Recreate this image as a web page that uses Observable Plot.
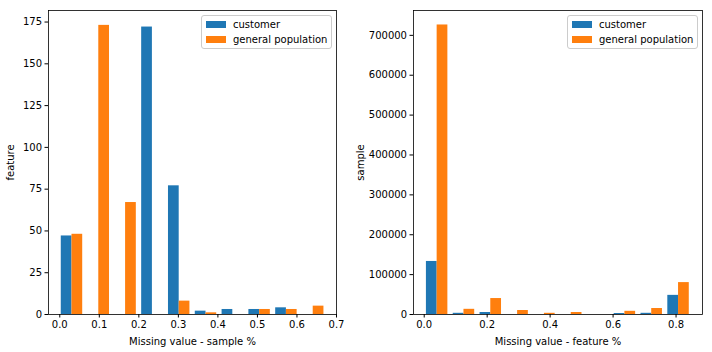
<!DOCTYPE html>
<html><head><meta charset="utf-8">
<script src="https://cdn.jsdelivr.net/npm/d3@7"></script>
<script src="https://cdn.jsdelivr.net/npm/@observablehq/plot@0.6"></script>
<style>
body{margin:0;background:#fff;font-family:"DejaVu Sans",sans-serif;}
#wrap{position:relative;width:712px;height:352px;overflow:hidden;}
.panel{position:absolute;top:0;}
.legend{position:absolute;box-sizing:border-box;border:1px solid #cccccc;border-radius:3px;background:rgba(255,255,255,0.8);font:10px "DejaVu Sans",sans-serif;color:#000;}
.legend .sw{position:absolute;width:20px;height:7px;}
.legend .lb{position:absolute;line-height:12px;white-space:nowrap;}
</style>
</head><body>
<div id="wrap"></div>
<script>
// ---- data ----
const seriesNames = ["customer", "general population"];
const seriesColors = ["#1f77b4", "#ff7f0e"];

// Left: missing value per sample, counts of features (10 bins)
const leftBinStart = -0.003;
const leftBinWidth = 0.0678;
const leftCustomer = [47, 0, 0, 172, 77, 2, 3, 3, 4, 0];
const leftGeneral  = [48, 173, 67, 0, 8, 1, 0, 3, 3, 5];
const leftXTicks = [0, 0.1, 0.2, 0.3, 0.4, 0.5, 0.6, 0.7];
const leftYTicks = [0, 25, 50, 75, 100, 125, 150, 175];

// Right: missing value per feature, counts of samples (10 bins)
const rightBinStart = -0.0015;
const rightBinWidth = 0.0852;
const rightCustomer = [133000, 3000, 5000, 0, 0, 0, 0, 2500, 3000, 48000];
const rightGeneral  = [726000, 13000, 40000, 10000, 3000, 5000, 0, 8000, 15000, 80000];
const rightXTicks = [0, 0.2, 0.4, 0.6, 0.8];
const rightYTicks = [0, 100000, 200000, 300000, 400000, 500000, 600000, 700000];

function rows(start, width, a, b) {
  const out = [];
  [a, b].forEach((vals, s) => {
    vals.forEach((v, i) => {
      const x1 = start + i * width + 0.1 * width + s * 0.4 * width;
      out.push({series: seriesNames[s], x1, x2: x1 + 0.4 * width, y: v});
    });
  });
  return out;
}

function panel(opts) {
  return Plot.plot({
    width: opts.w, height: 352,
    marginLeft: opts.ml, marginRight: opts.mr, marginTop: 10, marginBottom: 38,
    style: {fontFamily: "DejaVu Sans, sans-serif", fontSize: "10px", color: "#000", background: "transparent", overflow: "visible"},
    color: {domain: seriesNames, range: seriesColors},
    x: {domain: opts.xdom},
    y: {domain: opts.ydom},
    marks: [
      Plot.rectY(opts.data, {x1: "x1", x2: "x2", y: "y", fill: "series", inset: 0}),
      Plot.axisX({ticks: opts.xticks, tickFormat: d3.format(".1f"), tickSize: 3.5, tickPadding: 3,
        label: opts.xlabel, labelAnchor: "center", labelArrow: "none", labelOffset: 30}),
      Plot.axisY({ticks: opts.yticks, tickFormat: d3.format("d"), tickSize: 3.5, tickPadding: 3,
        label: opts.ylabel, labelAnchor: "center", labelArrow: "none", labelOffset: opts.ylo}),
      Plot.frame({stroke: "#000", strokeWidth: 0.8})
    ]
  });
}

const wrap = document.getElementById("wrap");
const p1 = panel({w: 354, ml: 48, mr: 18, xdom: [-0.0285, 0.7], ydom: [0, 181.9],
  data: rows(leftBinStart, leftBinWidth, leftCustomer, leftGeneral),
  xticks: leftXTicks, yticks: leftYTicks, xlabel: "Missing value - sample %", ylabel: "feature", ylo: 42});
const p2 = panel({w: 362, ml: 63, mr: 10, xdom: [-0.034, 0.884], ydom: [0, 762300],
  data: rows(rightBinStart, rightBinWidth, rightCustomer, rightGeneral),
  xticks: rightXTicks, yticks: rightYTicks, xlabel: "Missing value - feature %", ylabel: "sample", ylo: 57});
p1.classList.add("panel"); p1.style.left = "0px";
p2.classList.add("panel"); p2.style.left = "350px";
wrap.appendChild(p1); wrap.appendChild(p2);

function legend(left, top, w) {
  const d = document.createElement("div");
  d.className = "legend";
  d.style.left = left + "px"; d.style.top = top + "px";
  d.style.width = w + "px"; d.style.height = "34px";
  seriesNames.forEach((n, i) => {
    const sw = document.createElement("div");
    sw.className = "sw"; sw.style.background = seriesColors[i];
    sw.style.left = "4px"; sw.style.top = (5 + i * 15) + "px";
    const lb = document.createElement("div");
    lb.className = "lb"; lb.textContent = n;
    lb.style.left = "31px"; lb.style.top = (3 + i * 15) + "px";
    d.appendChild(sw); d.appendChild(lb);
  });
  wrap.appendChild(d);
}
legend(201, 15, 131);
legend(567, 15, 131);
</script>
</body></html>
